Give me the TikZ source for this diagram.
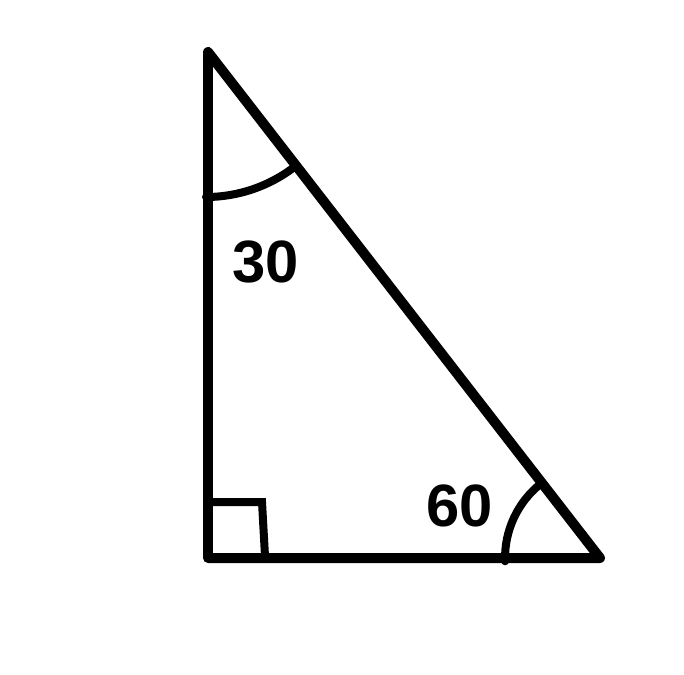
\documentclass[tikz,border=0pt]{standalone}
\usepackage{fontspec}
\setmainfont{Liberation Sans}
\usepackage{tikz}
\tikzset{
  font={\fontsize{34pt}{40}\selectfont\bfseries}}

\begin{document}
\begin{tikzpicture}[x=0.02cm, y=-0.02cm]

    \tikzset{side/.style = {line width=0.2cm, line cap=round, line join=round},
             anglemark/.style = {line width=0.16cm, line cap=round}}
    \useasboundingbox (0,0) rectangle (684,674);

    % vertices
    \coordinate (t) at (208,52);
    \coordinate (l) at (208,558);
    \coordinate (r) at (600,558);

    % labels
    \node (a) at (266,262) {30};
    \node (b) at (460,506) {60};

    % sides
    \draw[side] (t) -- (l) -- (r) -- cycle;

    % angle marks
    \draw[anglemark] (206,197) arc[start angle=-90, end angle=-52.2, radius=2.9cm];
    \draw[anglemark] (541.8,482.9) arc[start angle=127.8, end angle=182, radius=1.9cm];
    \draw[anglemark] (212,502) -- (262,502) -- (265,556);

\end{tikzpicture}
\end{document}
